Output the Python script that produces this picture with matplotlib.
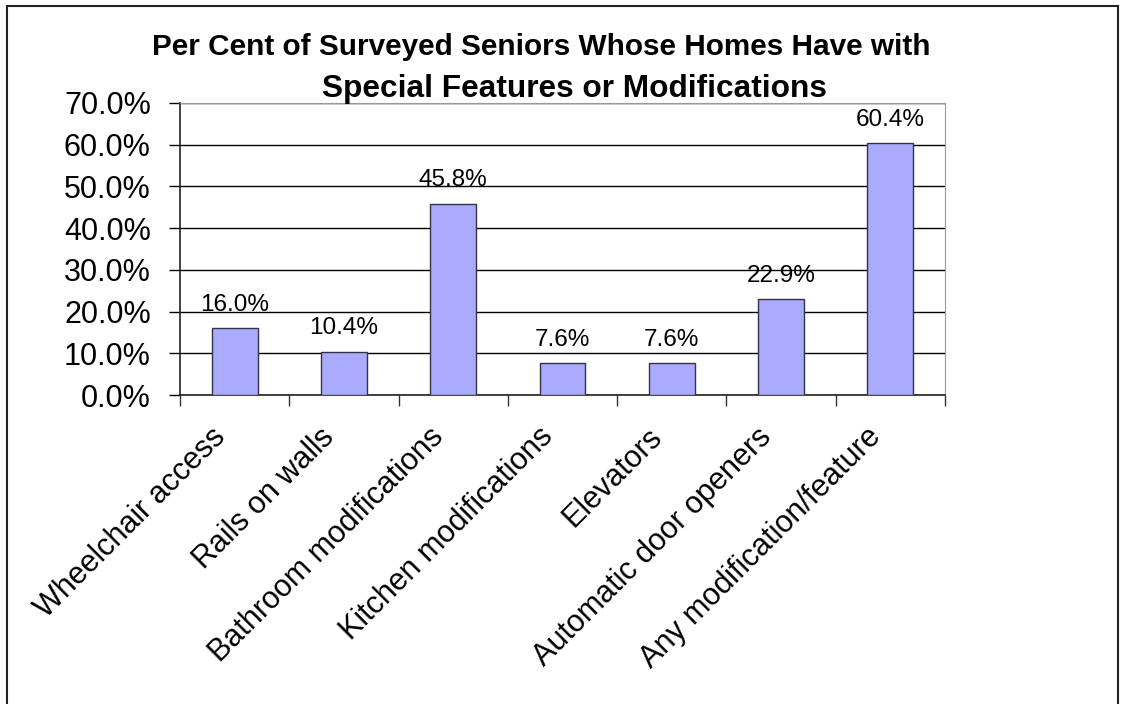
import matplotlib

matplotlib.use("Agg")
import matplotlib.pyplot as plt
import matplotlib.transforms as mtransforms
from matplotlib.patches import Rectangle
from matplotlib.ticker import FixedLocator, PercentFormatter

plt.rcParams["font.family"] = ["Liberation Sans", "DejaVu Sans"]

# --- Data --------------------------------------------------------------------
categories = [
    "Wheelchair access",
    "Rails on walls",
    "Bathroom modifications",
    "Kitchen modifications",
    "Elevators",
    "Automatic door openers",
    "Any modification/feature",
]
percent = [16.0, 10.4, 45.8, 7.6, 7.6, 22.9, 60.4]
y_ticks = [0, 10, 20, 30, 40, 50, 60, 70]

title_lines = ["Per Cent of Surveyed Seniors Whose Homes Have with",
               "Special Features or Modifications"]

# --- Figure ------------------------------------------------------------------
fig = plt.figure(figsize=(11.23, 7.04), dpi=100)
ax = fig.add_axes([0.1603, 0.4389, 0.6812, 0.4148])

# outer chart border
fig.patches.append(Rectangle((0.0062, -0.02), 0.9893, 1.0115, transform=fig.transFigure,
                             fill=False, edgecolor="#222222", lw=1.5))

x = list(range(len(categories)))
ax.bar(x, percent, width=0.42, color="#AAAAFF", edgecolor="#333344",
       linewidth=1.0, zorder=3)

for xi, v in zip(x, percent):
    ax.annotate(f"{v:.1f}%", (xi, v), xytext=(0, 9), textcoords="offset points",
                ha="center", va="bottom", fontsize=17.5, zorder=4)

ax.set_xlim(-0.5, len(categories) - 0.5)
ax.set_ylim(0, 70)
ax.yaxis.set_major_locator(FixedLocator(y_ticks))
ax.yaxis.set_major_formatter(PercentFormatter(decimals=1))
ax.grid(axis="y", color="black", lw=1.0, zorder=1)

# boundary ticks between categories, labels at category centres
ax.set_xticks([i - 0.5 for i in range(len(categories) + 1)])
ax.set_xticklabels([])
ax.set_xticks(x, minor=True)
ax.set_xticklabels(categories, minor=True, rotation=45, ha="right", va="center",
                   rotation_mode="anchor", fontsize=22)
ax.tick_params(axis="x", which="minor", length=0, pad=27)
ax.tick_params(axis="x", which="major", length=8, width=1, color="#333333")
ax.tick_params(axis="y", length=8, width=1, labelsize=22, pad=13)

# nudge the slanted labels left so their ends sit just before the category centre
nudge = mtransforms.ScaledTranslation(-14 / 100, 0, fig.dpi_scale_trans)
for lbl in ax.get_xticklabels(minor=True):
    lbl.set_transform(lbl.get_transform() + nudge)

for side in ("top", "right"):
    ax.spines[side].set_color("#999999")
for side in ("left", "bottom"):
    ax.spines[side].set_color("#222222")
    ax.spines[side].set_linewidth(1.2)

fig.text(0.482, 0.922, title_lines[0], ha="center", va="baseline", fontsize=21.4,
         fontweight="bold")
fig.text(0.5115, 0.862, title_lines[1], ha="center", va="baseline", fontsize=22.8,
         fontweight="bold")

fig.savefig("out.png", dpi=100)
